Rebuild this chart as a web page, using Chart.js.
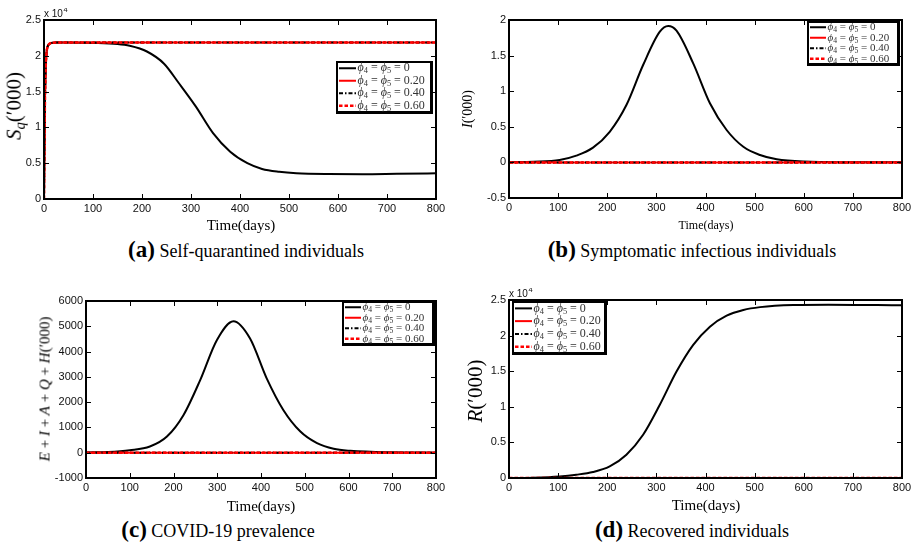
<!DOCTYPE html>
<html>
<head>
<meta charset="utf-8">
<script src="https://cdn.jsdelivr.net/npm/chart.js@4.4.1/dist/chart.umd.min.js"></script>
<style>
  body { margin: 0; background: #fff; }
  #fig { position: relative; width: 914px; height: 545px; overflow: hidden;
         font-family: "Liberation Serif", "DejaVu Serif", serif; color: #000; }
  #fig canvas { position: absolute; }
  .lbl { position: absolute; white-space: nowrap; transform: translate(-50%, -50%); }
  .ylbl { position: absolute; white-space: nowrap; transform: translate(-50%, -50%) rotate(-90deg); }
  .cap b { font-size: 23px; }
  sub { font-size: 70%; vertical-align: -0.25em; }
</style>
</head>
<body>
<div id="fig">
  <canvas id="ca"></canvas>
  <canvas id="cb"></canvas>
  <canvas id="cc"></canvas>
  <canvas id="cd"></canvas>

  <div class="ylbl" style="left:15px;top:106px;font-size:21px"><i>S</i><sub><i>q</i></sub>(′000)</div>
  <div class="ylbl" style="left:468px;top:109px;font-size:14px"><i>I</i>(′000)</div>
  <div class="ylbl" style="left:45px;top:389px;font-size:15px"><i>E</i> + <i>I</i> + <i>A</i> + <i>Q</i> + <i>H</i>(′000)</div>
  <div class="ylbl" style="left:475px;top:391px;font-size:21px"><i>R</i>(′000)</div>

  <div class="lbl" style="left:241px;top:225px;font-size:15px">Time(days)</div>
  <div class="lbl" style="left:706px;top:225px;font-size:12px">Time(days)</div>
  <div class="lbl" style="left:261px;top:506px;font-size:15px">Time(days)</div>
  <div class="lbl" style="left:706px;top:505px;font-size:15px">Time(days)</div>

  <div class="lbl cap" style="left:246px;top:250px;font-size:18px"><b>(a)</b> Self-quarantined individuals</div>
  <div class="lbl cap" style="left:692px;top:250px;font-size:18px"><b>(b)</b> Symptomatic infectious individuals</div>
  <div class="lbl cap" style="left:218px;top:530px;font-size:18px"><b>(c)</b> COVID-19 prevalence</div>
  <div class="lbl cap" style="left:692px;top:530px;font-size:18px"><b>(d)</b> Recovered individuals</div>
</div>

<script>
// (a) self-quarantined S_q
const daysA = [0, 1, 2, 3, 5, 7, 10, 15, 25, 50, 100, 150, 175, 210, 245, 275, 310, 345, 380, 415, 445, 480, 515, 580, 650, 720, 800];
const sqPhi0 = [0, 8000, 14000, 17500, 20300, 21200, 21600, 21800, 21850, 21850, 21800, 21650, 21400, 20600, 18900, 16200, 12900, 9200, 6600, 5000, 4200, 3800, 3600, 3490, 3470, 3520, 3580];
const daysAFlat = [0, 1, 2, 3, 5, 7, 10, 15, 25, 100, 200, 300, 400, 500, 600, 700, 800];
const sqPhi20 = [0, 8000, 14000, 17500, 20300, 21200, 21600, 21800, 21850, 21850, 21850, 21850, 21850, 21850, 21850, 21850, 21850];
const sqPhi40 = [0, 8000, 14000, 17500, 20300, 21200, 21600, 21800, 21850, 21850, 21850, 21850, 21850, 21850, 21850, 21850, 21850];
const sqPhi60 = [0, 8000, 14000, 17500, 20300, 21200, 21600, 21800, 21850, 21850, 21850, 21850, 21850, 21850, 21850, 21850, 21850];

// (b) symptomatic infectious I
const daysB = [0, 50, 103, 137, 171, 205, 239, 273, 307, 324, 341, 375, 409, 443, 477, 511, 545, 600, 700, 800];
const iPhi0 = [0.002, 0.01, 0.034, 0.095, 0.207, 0.43, 0.806, 1.368, 1.836, 1.916, 1.85, 1.39, 0.83, 0.455, 0.22, 0.104, 0.043, 0.012, 0.003, 0.001];

// (c) prevalence E+I+A+Q+H
const daysC = [0, 50, 100, 146, 185, 223, 261, 299, 337, 375, 413, 451, 490, 528, 566, 604, 700, 800];
const prevPhi0 = [10, 30, 100, 245, 640, 1494, 2873, 4450, 5200, 4517, 2940, 1690, 836, 378, 154, 75, 15, 3];

// (d) recovered R
const daysD = [0, 50, 103, 137, 171, 205, 239, 273, 307, 341, 375, 409, 443, 477, 511, 579, 650, 800];
const rPhi0 = [0, 50, 220, 460, 840, 1630, 3270, 6070, 10280, 14950, 18700, 21260, 22800, 23600, 24000, 24300, 24350, 24250];

// controlled cases stay at zero in (b)-(d)
const daysFlat = [0, 100, 200, 300, 400, 500, 600, 700, 800];
const zeroPhi20 = [0, 0, 0, 0, 0, 0, 0, 0, 0];
const zeroPhi40 = [0, 0, 0, 0, 0, 0, 0, 0, 0];
const zeroPhi60 = [0, 0, 0, 0, 0, 0, 0, 0, 0];

const labels = ['ϕ_4 = ϕ_5 = 0', 'ϕ_4 = ϕ_5 = 0.20', 'ϕ_4 = ϕ_5 = 0.40', 'ϕ_4 = ϕ_5 = 0.60'];
const xTicks = { min: 0, max: 800, step: 100 };

const SERIF = '"Liberation Serif", "DejaVu Serif", serif';
const SANS = '"Liberation Sans", Arial, sans-serif';

const styles = [
  { borderColor: '#000', borderWidth: 2, borderDash: [], order: 4 },
  { borderColor: '#ff0000', borderWidth: 2, borderDash: [], order: 3 },
  { borderColor: '#000', borderWidth: 2, borderDash: [4, 2, 1.5, 2], order: 2 },
  { borderColor: '#ff0000', borderWidth: 2.5, borderDash: [3.5, 2], order: 1 },
];

const pts = (xs, ys) => xs.map((x, i) => ({ x, y: ys[i] }));

function drawLabel(ctx, text, x, y, size) {
  const parts = text.split(/(ϕ_\d)/).filter(Boolean);
  ctx.textBaseline = 'middle';
  ctx.textAlign = 'left';
  for (const p of parts) {
    if (p.startsWith('ϕ_')) {
      ctx.font = `italic ${size}px ${SERIF}`;
      ctx.fillText('ϕ', x, y);
      x += ctx.measureText('ϕ').width;
      ctx.font = `${size * 0.7}px ${SERIF}`;
      ctx.fillText(p[2], x, y + size * 0.25);
      x += ctx.measureText(p[2]).width;
    } else {
      ctx.font = `${size}px ${SERIF}`;
      ctx.fillText(p, x, y);
      x += ctx.measureText(p).width;
    }
  }
}

// MATLAB style box, inward ticks, exponent and legend (drawn with filled rects)
const matlabBox = {
  id: 'matlabBox',
  afterDraw(chart, args, opts) {
    const ctx = chart.ctx;
    const area = chart.chartArea;
    const xs = chart.scales.x, ys = chart.scales.y;
    const left = Math.round(area.left), top = Math.round(area.top);
    const right = Math.round(area.right), bottom = Math.round(area.bottom);
    ctx.save();
    ctx.globalAlpha = 1;
    ctx.globalCompositeOperation = 'source-over';
    ctx.fillStyle = '#000000';
    ctx.fillRect(left - 1, top - 1, right - left + 2, 2);
    ctx.fillRect(left - 1, bottom - 1, right - left + 2, 2);
    ctx.fillRect(left - 1, top - 1, 2, bottom - top + 2);
    ctx.fillRect(right - 1, top - 1, 2, bottom - top + 2);
    xs.ticks.forEach(tk => {
      const px = Math.round(xs.getPixelForValue(tk.value));
      ctx.fillRect(px, bottom - 5, 1, 5);
      ctx.fillRect(px, top, 1, 5);
    });
    ys.ticks.forEach(tk => {
      const py = Math.round(ys.getPixelForValue(tk.value));
      ctx.fillRect(left, py, 5, 1);
      ctx.fillRect(right - 5, py, 5, 1);
    });

    if (opts.exp) {
      ctx.fillStyle = '#111';
      ctx.textBaseline = 'alphabetic';
      ctx.textAlign = 'left';
      ctx.font = `10px ${SANS}`;
      ctx.fillText('x 10', area.left, area.top - 3);
      const w = ctx.measureText('x 10').width;
      ctx.font = `7.5px ${SANS}`;
      ctx.fillText(opts.exp, area.left + w + 0.5, area.top - 8);
    }

    const L = opts.legend;
    if (L) {
      const bx = Math.round(area.left + L.x), by = Math.round(area.top + L.y);
      ctx.fillStyle = '#000';
      ctx.fillRect(bx - 1, by - 1, L.w + 3, L.h + 3);
      ctx.fillStyle = '#fff';
      ctx.fillRect(bx + 1, by + 1, L.w - 2, L.h - 2);
      const rowH = L.h / chart.data.datasets.length;
      chart.data.datasets.forEach((ds, i) => {
        const cy = by + rowH * (i + 0.5);
        ctx.beginPath();
        ctx.strokeStyle = ds.borderColor;
        ctx.lineWidth = ds.borderWidth;
        ctx.setLineDash(ds.borderDash);
        ctx.moveTo(bx + 2, cy); ctx.lineTo(bx + L.line, cy);
        ctx.stroke();
        ctx.setLineDash([]);
        ctx.fillStyle = '#333';
        drawLabel(ctx, ds.label, bx + L.line + 1.5, cy, L.font);
      });
    }
    ctx.restore();
  }
};

const PAD_L = 45, PAD_T = 12, PAD_R = 14, PAD_B = 22;

function panel(canvasId, plot, yAxis, series, opts) {
  const [L, T, R, B] = plot;
  const cv = document.getElementById(canvasId);
  cv.width = R - L + PAD_L + PAD_R;
  cv.height = B - T + PAD_T + PAD_B;
  cv.style.left = (L - PAD_L) + 'px';
  cv.style.top = (T - PAD_T) + 'px';

  return new Chart(cv, {
    type: 'line',
    data: {
      datasets: series.map((s, i) => ({
        label: labels[i],
        data: pts(s[0], s[1]),
        ...styles[i],
        pointRadius: 0,
        fill: false,
        cubicInterpolationMode: 'monotone',
      })),
    },
    options: {
      responsive: false,
      animation: false,
      devicePixelRatio: 1,
      layout: { padding: { left: 0, top: PAD_T, right: PAD_R, bottom: 0 } },
      plugins: { legend: { display: false }, tooltip: { enabled: false }, matlabBox: opts },
      scales: {
        x: {
          type: 'linear', min: xTicks.min, max: xTicks.max,
          grid: { display: false, drawTicks: false }, border: { display: false },
          ticks: { stepSize: xTicks.step, padding: 3, color: '#111', maxRotation: 0,
                   font: { family: SANS, size: 11 } },
          afterFit: s => { s.height = PAD_B; s.paddingLeft = 0; s.paddingRight = 0; },
        },
        y: {
          min: yAxis.min, max: yAxis.max,
          grid: { display: false, drawTicks: false }, border: { display: false },
          ticks: { stepSize: yAxis.step, padding: 3, color: '#111',
                   font: { family: SANS, size: 11 }, callback: yAxis.fmt },
          afterFit: s => { s.width = PAD_L; s.paddingTop = 0; s.paddingBottom = 0; },
        },
      },
    },
    plugins: [matlabBox],
  });
}

const fmtE4 = v => String(+(v / 1e4).toFixed(1));

panel('ca', [44, 20, 436, 199], { min: 0, max: 25000, step: 5000, fmt: fmtE4 },
  [[daysA, sqPhi0], [daysAFlat, sqPhi20], [daysAFlat, sqPhi40], [daysAFlat, sqPhi60]],
  { exp: '4', legend: { x: 293, y: 42, w: 94, h: 50, line: 19, font: 12 } });

panel('cb', [509, 20, 902, 198], { min: -0.5, max: 2, step: 0.5, fmt: v => String(+v.toFixed(1)) },
  [[daysB, iPhi0], [daysFlat, zeroPhi20], [daysFlat, zeroPhi40], [daysFlat, zeroPhi60]],
  { legend: { x: 299, y: 2, w: 90, h: 42, line: 18, font: 11 } });

panel('cc', [86, 301, 436, 478], { min: -1000, max: 6000, step: 1000, fmt: v => String(v) },
  [[daysC, prevPhi0], [daysFlat, zeroPhi20], [daysFlat, zeroPhi40], [daysFlat, zeroPhi60]],
  { legend: { x: 257, y: 1, w: 90, h: 42, line: 18, font: 11 } });

panel('cd', [509, 300, 902, 478], { min: 0, max: 25000, step: 5000, fmt: fmtE4 },
  [[daysD, rPhi0], [daysFlat, zeroPhi20], [daysFlat, zeroPhi40], [daysFlat, zeroPhi60]],
  { exp: '4', legend: { x: 4, y: 2, w: 92, h: 51, line: 19, font: 12 } });
</script>
</body>
</html>
